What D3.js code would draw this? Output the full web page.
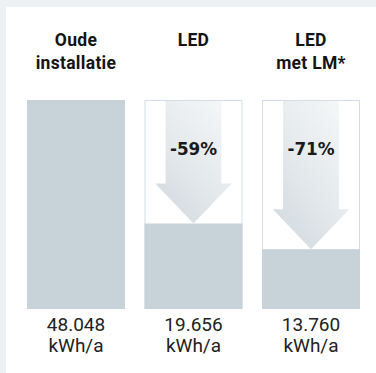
<!DOCTYPE html>
<html>
<head>
<meta charset="utf-8">
<script src="https://cdn.jsdelivr.net/npm/d3@7"></script>
<style>
  html, body { margin: 0; padding: 0; background: #edf1f4; }
  svg { display: block; }
</style>
</head>
<body>
<svg id="chart" width="376" height="373"></svg>
<script>
// Energy use per year for three lighting setups
const categories = ["Oude installatie", "LED", "LED met LM*"];
const titleLines = [["Oude", "installatie"], ["LED"], ["LED", "met LM*"]];
const consumption = [48048, 19656, 13760];
const unitLabel = "kWh/a";

const W = 376, H = 373;
const svg = d3.select("#chart");

// white card
svg.append("rect").attr("x", 6).attr("y", 7).attr("width", W - 6).attr("height", H - 7).attr("fill", "#ffffff");

const x = d3.scaleBand().domain(categories).range([27, 360]).paddingInner(0.166).paddingOuter(0);
const y = d3.scaleLinear().domain([0, d3.max(consumption)]).range([309, 100]);
const base = consumption[0];
const nl = d3.formatLocale({ decimal: ",", thousands: ".", grouping: [3], currency: ["", ""] });
const fmtNL = nl.format(",.0f");

const defs = svg.append("defs");
const grad = defs.append("linearGradient").attr("id", "arrowGrad")
  .attr("x1", "0.9").attr("y1", "0").attr("x2", "0.2").attr("y2", "1");
grad.append("stop").attr("offset", "0%").attr("stop-color", "#f5f7f8");
grad.append("stop").attr("offset", "55%").attr("stop-color", "#e4e9ec");
grad.append("stop").attr("offset", "100%").attr("stop-color", "#d2dbe0");

const groups = svg.selectAll("g.bar").data(categories).join("g").attr("class", "bar");

groups.each(function (cat, i) {
  const g = d3.select(this);
  const x0 = x(cat), bw = x.bandwidth(), cx = x0 + bw / 2;
  const v = consumption[i];

  // reference frame at full consumption for the reduced setups
  if (i > 0) {
    g.append("rect")
      .attr("x", x0 + 0.5).attr("y", y(base) + 0.5)
      .attr("width", bw - 1).attr("height", y(0) - y(base) - 1)
      .attr("fill", "#ffffff").attr("stroke", "#d3dde3").attr("stroke-width", 1);

    // downward arrow from the old level to the new level
    const top = y(base) + 1, tip = y(v);
    const headH = 40, shaftHalf = bw * 0.285, headHalf = bw * 0.39;
    const path = d3.path();
    path.moveTo(cx - shaftHalf, top);
    path.lineTo(cx + shaftHalf, top);
    path.lineTo(cx + shaftHalf, tip - headH);
    path.lineTo(cx + headHalf, tip - headH);
    path.lineTo(cx, tip);
    path.lineTo(cx - headHalf, tip - headH);
    path.lineTo(cx - shaftHalf, tip - headH);
    path.closePath();
    g.append("path").attr("d", path.toString()).attr("fill", "url(#arrowGrad)");

    const pct = Math.round((v / base - 1) * 100);
    g.append("text")
      .attr("x", cx).attr("y", 155)
      .attr("text-anchor", "middle")
      .attr("font-family", "'DejaVu Sans', sans-serif")
      .attr("font-weight", "bold").attr("font-size", 16.8)
      .attr("fill", "#1a1a1a")
      .text((pct < 0 ? "-" : "") + Math.abs(pct) + "%");
  }

  // consumption bar
  g.append("rect")
    .attr("x", x0).attr("y", y(v))
    .attr("width", bw).attr("height", y(0) - y(v))
    .attr("fill", "#c8d3d9");

  // title above
  const t = g.append("text")
    .attr("text-anchor", "middle")
    .attr("font-family", "Roboto, sans-serif")
    .attr("font-weight", "bold").attr("font-size", 17.5)
    .attr("letter-spacing", 0.3)
    .attr("fill", "#141414");
  titleLines[i].forEach((line, k) => {
    t.append("tspan").attr("x", cx).attr("y", 46 + k * 22.5).text(line);
  });

  // value below
  const vt = g.append("text")
    .attr("text-anchor", "middle")
    .attr("font-family", "Roboto, sans-serif")
    .attr("font-size", 19)
    .attr("fill", "#222222");
  vt.append("tspan").attr("x", cx).attr("y", 331).text(fmtNL(v));
  vt.append("tspan").attr("x", cx).attr("y", 352).text(unitLabel);
});
</script>
</body>
</html>
